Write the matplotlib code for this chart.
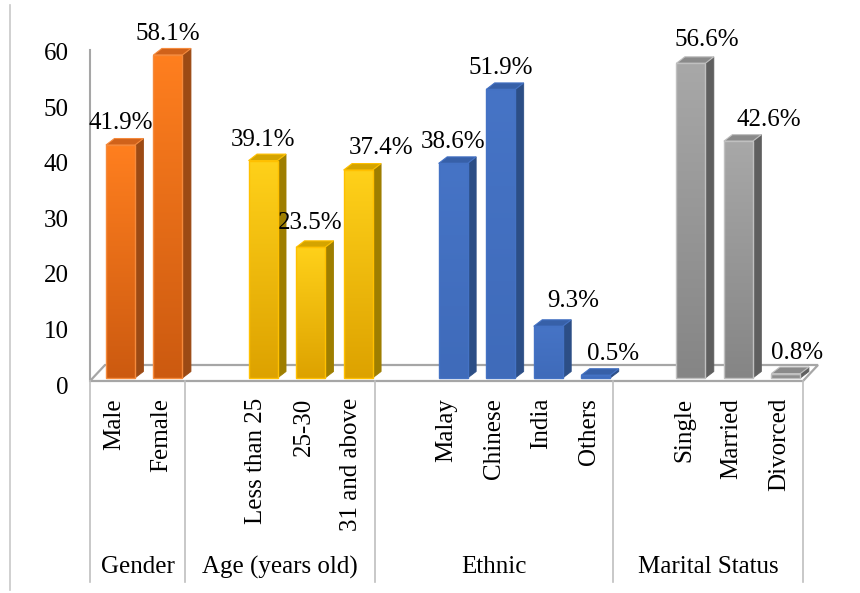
import numpy as np
import matplotlib.pyplot as plt
from matplotlib.patches import Polygon
from matplotlib.colors import LinearSegmentedColormap
from matplotlib.lines import Line2D
from matplotlib.transforms import ScaledTranslation

plt.rcParams['font.family'] = ['Liberation Serif', 'DejaVu Serif']
plt.rcParams['font.size'] = 18

# data
groups = ['Gender', 'Age (years old)', 'Ethnic', 'Marital Status']
gender_labels = ['Male', 'Female']
gender_values = [41.9, 58.1]
age_labels = ['Less than 25', '25-30', '31 and above']
age_values = [39.1, 23.5, 37.4]
ethnic_labels = ['Malay', 'Chinese', 'India', 'Others']
ethnic_values = [38.6, 51.9, 9.3, 0.5]
marital_labels = ['Single', 'Married', 'Divorced']
marital_values = [56.6, 42.6, 0.8]

group_labels = [gender_labels, age_labels, ethnic_labels, marital_labels]
group_values = [gender_values, age_values, ethnic_values, marital_values]

# styling per group: gradient bottom, gradient top, side, top face, edge
styles = [
    ('#CC5A10', '#FF7F1F', '#9C4A14', '#D0621A', '#F58A3C'),
    ('#DDA200', '#FFD11A', '#9E7E00', '#D4A400', '#FFC000'),
    ('#3F6BBA', '#4674C6', '#2C4E86', '#3760A8', '#4472C4'),
    ('#858585', '#A8A8A8', '#5F5F5F', '#8A8A8A', '#C0C0C0'),
]

# label nudges (pixels) to follow the hand-placed labels in the original
label_dx = [0, 0, 0, 0, 23, 0, 0, 25, 17, 16, 30, 11]
label_dy = [16, 15, 15, 18, 16, 15, 15, 19, 15, 17, 15, 15]

fig = plt.figure(figsize=(8.6, 5.93), dpi=100)
ax_w_px, ax_h_px = 713, 333.6
ax = fig.add_axes([90 / 860, 215 / 593, ax_w_px / 860, ax_h_px / 593])

n_slots = 15
px_x = ax_w_px / n_slots
px_y = ax_h_px / 60

# 3D depth of the bars and floor, in data units
ddx, ddy = 8.5 / px_x, 6.5 / px_y
fdx, fdy = 15 / px_x, 16 / px_y
floor_y = -3 / px_y

# floor
floor = Polygon([(0, floor_y), (n_slots, floor_y), (n_slots + fdx, floor_y + fdy),
                 (fdx, floor_y + fdy)], closed=True, facecolor='white',
                edgecolor='#a6a6a6', lw=1.6, clip_on=False, zorder=1)
ax.add_patch(floor)
ax.plot([0, 0], [floor_y, 59], color='#a6a6a6', lw=1.5, clip_on=False, zorder=1)

slot = 0
bounds = [0]
k = 0
bar_w = 0.61
for gi, (labs, vals) in enumerate(zip(group_labels, group_values)):
    if gi > 0:
        slot += 1  # empty slot at the start of each later group
    c_bot, c_top, c_side, c_topface, c_edge = styles[gi]
    cmap = LinearSegmentedColormap.from_list('g%d' % gi, [c_bot, c_top])
    for lab, v in zip(labs, vals):
        xc = slot + 0.5 + 0.14
        x0, x1 = xc - bar_w / 2, xc + bar_w / 2
        side = Polygon([(x1, 0), (x1 + ddx, ddy), (x1 + ddx, v + ddy), (x1, v)],
                       facecolor=c_side, edgecolor=c_side, lw=0.6, clip_on=False, zorder=3)
        top = Polygon([(x0, v), (x1, v), (x1 + ddx, v + ddy), (x0 + ddx, v + ddy)],
                      facecolor=c_topface, edgecolor=c_edge, lw=0.8, clip_on=False, zorder=3)
        ax.add_patch(side)
        ax.add_patch(top)
        bar = ax.bar(xc, v, width=bar_w, facecolor='none', edgecolor=c_edge,
                     lw=1.0, zorder=5, clip_on=False)[0]
        grad = np.linspace(0, 1, 256).reshape(-1, 1)
        im = ax.imshow(grad, cmap=cmap, origin='lower', aspect='auto',
                       extent=[x0, x1, 0, v], zorder=4)
        im.set_clip_path(bar)
        ax.annotate('%.1f%%' % v, (xc, v), xytext=(label_dx[k], label_dy[k]),
                    textcoords='offset pixels', ha='center', va='baseline',
                    annotation_clip=False)
        ax.text(slot + 0.5, -0.06, lab, rotation=90, ha='center', va='top',
                transform=ax.get_xaxis_transform())
        slot += 1
        k += 1
    bounds.append(slot)

# group separators and group names under the floor
sep_bottom = (378 - 582) / ax_h_px
for b in bounds:
    ax.plot([b, b], [floor_y / 60 * 0 + (floor_y / 60), sep_bottom], color='#bfbfbf',
            lw=1.2, clip_on=False, transform=ax.get_xaxis_transform())
for gi, g in enumerate(groups):
    ax.text((bounds[gi] + bounds[gi + 1]) / 2, (378 - 567) / ax_h_px, g,
            ha='center', va='center', transform=ax.get_xaxis_transform())

ax.set_xlim(0, n_slots)
ax.set_ylim(0, 60)
ax.set_xticks([])
ax.set_yticks(range(0, 61, 10))
ax.tick_params(axis='y', length=0, pad=15.5)
for t in ax.get_yticklabels():
    t.set_transform(t.get_transform() + ScaledTranslation(0, -7 / 100, fig.dpi_scale_trans))
for s in ax.spines.values():
    s.set_visible(False)
ax.patch.set_alpha(0)

fig.add_artist(Line2D([10 / 860, 10 / 860], [1 - 5 / 593, 1 - 590 / 593],
                      color='#c8c8c8', lw=1.2))

fig.savefig('out.png', dpi=100)
